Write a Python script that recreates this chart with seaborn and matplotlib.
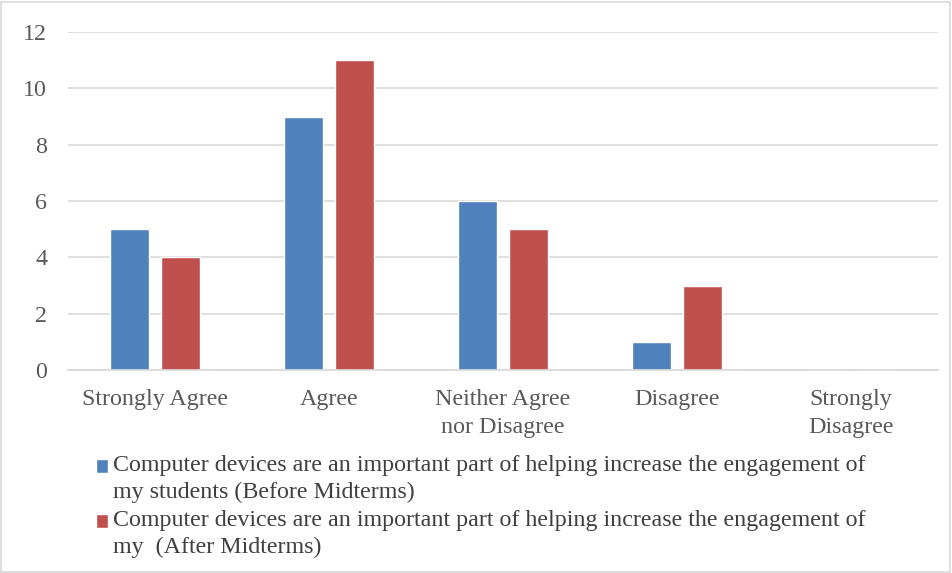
import matplotlib
matplotlib.use("Agg")
import matplotlib.pyplot as plt
import seaborn as sns
import pandas as pd
from matplotlib.patches import Rectangle
from matplotlib.legend_handler import HandlerPatch

categories = ["Strongly Agree", "Agree", "Neither Agree\nnor Disagree", "Disagree", "Strongly\nDisagree"]
before_values = [5, 9, 6, 1, 0]
after_values = [4, 11, 5, 3, 0]
series_names = [
    "Computer devices are an important part of helping increase the engagement of\nmy students (Before Midterms)",
    "Computer devices are an important part of helping increase the engagement of\nmy  (After Midterms)",
]
y_ticks = [0, 2, 4, 6, 8, 10, 12]

df = pd.DataFrame({
    "category": categories * 2,
    "value": before_values + after_values,
    "series": [series_names[0]] * len(categories) + [series_names[1]] * len(categories),
})

sns.set_theme(style="white")
plt.rcParams["font.family"] = ["Liberation Serif", "DejaVu Serif"]

FS = 17.3
W, H = 952, 573
fig = plt.figure(figsize=(W / 100, H / 100), dpi=100)
ax = fig.add_axes([68 / W, (H - 370) / H, 870 / W, 338 / H])

sns.barplot(data=df, x="category", y="value", hue="series", order=categories,
            hue_order=series_names, palette=["#4F81BD", "#C0504D"],
            width=0.575, gap=0.22, ax=ax, legend=True, saturation=1)

ax.set_ylim(0, 12)
ax.set_xlim(-0.5, len(categories) - 0.5)
ax.set_yticks(y_ticks)
ax.set_yticklabels([str(t) for t in y_ticks])
ax.set_xlabel("")
ax.set_ylabel("")
ax.yaxis.grid(True, color="#D9D9D9", linewidth=1.2)
ax.set_axisbelow(True)
for s in ["top", "right", "left"]:
    ax.spines[s].set_visible(False)
ax.spines["bottom"].set_color("#D9D9D9")
ax.spines["bottom"].set_linewidth(1.2)
ax.tick_params(axis="both", length=0, labelsize=FS, colors="#595959")
ax.tick_params(axis="y", pad=15)
ax.tick_params(axis="x", pad=14)
for lbl in ax.get_xticklabels():
    lbl.set_linespacing(1.4)


def top_square(legend, orig_handle, xdescent, ydescent, width, height, fontsize):
    return Rectangle((-xdescent, -ydescent + 9.0), width, height)


handles, labels = ax.get_legend_handles_labels()
ax.get_legend().remove()
leg = fig.legend(handles, labels, loc="upper left", bbox_to_anchor=(96 / W, 1 - 455 / H),
                 frameon=False, fontsize=FS, handlelength=0.5, handleheight=0.5,
                 handletextpad=0.2, labelspacing=0.29, borderaxespad=0, borderpad=0,
                 handler_map={h: HandlerPatch(patch_func=top_square) for h in handles})
for t in leg.get_texts():
    t.set_color("#404040")
    t.set_linespacing(1.35)

fig.patches.append(Rectangle((1 / W, 1 / H), 1 - 3 / W, 1 - 3 / H, transform=fig.transFigure,
                             fill=False, edgecolor="#D9D9D9", linewidth=1.2))

fig.savefig("out.png", dpi=100, facecolor="white")
